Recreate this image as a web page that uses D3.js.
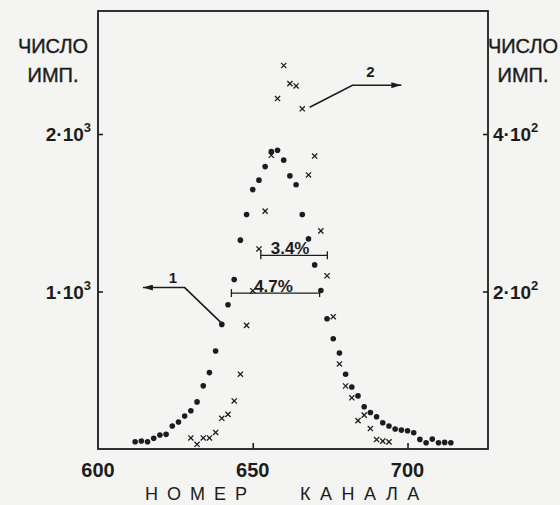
<!DOCTYPE html>
<html>
<head>
<meta charset="utf-8">
<script src="https://cdn.jsdelivr.net/npm/d3@7"></script>
<style>
  body { margin: 0; background: #f4f4f2; }
  svg { display: block; font-family: "Liberation Sans", Arial, sans-serif; }
  .axis path, .axis line { stroke: #1c1c1c; stroke-width: 1.6; }
</style>
</head>
<body>
<svg id="chart" width="560" height="505"></svg>
<script>
// series 1 (dots, left axis)
var channels1 = [612, 614, 616, 618, 620, 622, 624, 626, 628, 630, 632, 634, 636, 638, 640, 642,
  644, 646, 648, 650, 652, 654, 656, 658, 660, 662, 664, 666, 668, 670, 672, 674, 676, 678,
  680, 682, 684, 686, 688, 690, 692, 694, 696, 698, 700, 702, 704, 706, 708, 710, 712, 714];
var counts1 = [46, 51, 46, 68, 89, 93, 146, 171, 209, 243, 299, 401, 485, 622, 791, 916,
  1076, 1326, 1489, 1647, 1707, 1793, 1888, 1897, 1834, 1734, 1678, 1489, 1334, 1169, 1006, 827, 700, 609,
  475, 394, 337, 268, 232, 205, 167, 146, 127, 120, 116, 103, 61, 40, 63, 40, 42, 40];

// series 2 (crosses, right axis)
var channels2 = [630, 632, 634, 636, 638, 640, 642, 644, 646, 648, 650, 652, 654, 656, 658, 660,
  662, 664, 666, 668, 670, 672, 674, 676, 678, 680, 682, 684, 686, 688, 690, 692, 694];
var counts2 = [14, 6, 14, 14, 21, 39, 44, 61, 95, 157, 201, 254, 302, 373, 445, 487,
  464, 461, 432, 348, 372, 277, 220, 168, 108, 80, 65, 36, 43, 26, 12, 10, 9];

var xTicks = [600, 650, 700],
  leftTicks = [1000, 2000], leftTickText = ["1", "2"], leftExp = "3",
  rightTicks = [200, 400], rightTickText = ["2", "4"], rightExp = "2";

// resolution bars: [from channel, to channel, level, label]
var fwhm1 = [643.1, 671.6, 990, "4.7%"],
  fwhm2 = [652.6, 674.1, 246, "3.4%"];

var svg = d3.select("#chart"),
  box = {l: 98, r: 488, t: 11, b: 449},
  ink = "#1c1c1c";

var x = d3.scaleLinear().domain([600, 726]).range([box.l, box.r]);
var yL = d3.scaleLinear().domain([0, 2000]).range([box.b, 134]);
var yR = d3.scaleLinear().domain([0, 400]).range([box.b, 134]);

// frame
svg.append("rect")
  .attr("x", box.l).attr("y", box.t)
  .attr("width", box.r - box.l).attr("height", box.b - box.t)
  .attr("fill", "none").attr("stroke", ink).attr("stroke-width", 1.8);

// ticks (all pointing into the plot)
svg.append("g").attr("class", "axis")
  .attr("transform", "translate(" + box.l + ",0)")
  .call(d3.axisRight(yL).tickValues(leftTicks).tickSize(5).tickSizeOuter(0).tickFormat(""));
svg.append("g").attr("class", "axis")
  .attr("transform", "translate(" + box.r + ",0)")
  .call(d3.axisLeft(yR).tickValues(rightTicks).tickSize(5).tickSizeOuter(0).tickFormat(""));
svg.append("g").attr("class", "axis")
  .attr("transform", "translate(0," + box.b + ")")
  .call(d3.axisTop(x).tickValues(xTicks.slice(1)).tickSize(6).tickSizeOuter(0).tickFormat(""));
svg.selectAll(".axis .domain").remove();

// tick labels
svg.selectAll(".xlab").data(xTicks).enter().append("text")
  .attr("x", d => x(d)).attr("y", 477)
  .attr("text-anchor", "middle")
  .attr("font-size", 20).attr("font-weight", "bold").attr("fill", ink)
  .text(d => d);

function expLabels(ticks, texts, exp, scale, xpos, anchor) {
  var t = svg.selectAll(null).data(ticks).enter().append("text")
    .attr("x", xpos).attr("y", d => scale(d) + 7)
    .attr("text-anchor", anchor)
    .attr("font-size", 19).attr("font-weight", "bold").attr("fill", ink);
  t.append("tspan").text((d, i) => texts[i] + "\u00b710");
  t.append("tspan").attr("dy", -9).attr("font-size", 13).text(exp);
}
expLabels(leftTicks, leftTickText, leftExp, yL, 91, "end");
expLabels(rightTicks, rightTickText, rightExp, yR, 493, "start");

// axis titles
[53, 523].forEach(cx => {
  svg.append("text").attr("x", cx).attr("y", 53).attr("text-anchor", "middle")
    .attr("font-size", 20).attr("fill", ink).attr("stroke", ink).attr("stroke-width", 0.4)
    .text("ЧИСЛО");
  svg.append("text").attr("x", cx).attr("y", 82).attr("text-anchor", "middle")
    .attr("font-size", 20).attr("fill", ink).attr("stroke", ink).attr("stroke-width", 0.4)
    .text("ИМП.");
});
svg.append("text").attr("x", 145).attr("y", 500)
  .attr("font-size", 18).attr("letter-spacing", 9).attr("fill", ink).text("НОМЕР");
svg.append("text").attr("x", 300).attr("y", 500)
  .attr("font-size", 18).attr("letter-spacing", 9.5).attr("fill", ink).text("КАНАЛА");

// resolution bars
function bar(b, scale, shift) {
  var g = svg.append("g").attr("stroke", ink).attr("stroke-width", 1.3);
  var yy = scale(b[2]);
  g.append("line").attr("x1", x(b[0])).attr("x2", x(b[1])).attr("y1", yy).attr("y2", yy);
  [b[0], b[1]].forEach(c => {
    g.append("line").attr("x1", x(c)).attr("x2", x(c)).attr("y1", yy - 4).attr("y2", yy + 4);
  });
  svg.append("text").attr("x", (x(b[0]) + x(b[1])) / 2 + shift).attr("y", yy - 1)
    .attr("text-anchor", "middle").attr("font-size", 17).attr("font-weight", "bold")
    .attr("fill", ink).text(b[3]);
}
bar(fwhm1, yL, -2);
bar(fwhm2, yR, -4);

// series 1: dots
svg.append("g").selectAll("circle")
  .data(channels1.map((c, i) => [c, counts1[i]]))
  .enter().append("circle")
  .attr("cx", d => x(d[0])).attr("cy", d => yL(d[1]))
  .attr("r", 2.8).attr("fill", ink);

// series 2: crosses
var cs = 2.6;
svg.append("g").selectAll("path")
  .data(channels2.map((c, i) => [c, counts2[i]]))
  .enter().append("path")
  .attr("d", d => {
    var px = x(d[0]), py = yR(d[1]);
    return "M" + (px - cs) + "," + (py - cs) + "L" + (px + cs) + "," + (py + cs) +
      "M" + (px - cs) + "," + (py + cs) + "L" + (px + cs) + "," + (py - cs);
  })
  .attr("stroke", ink).attr("stroke-width", 1.3).attr("fill", "none");

// leader arrows
svg.append("defs").append("marker")
  .attr("id", "head").attr("viewBox", "0 0 10 6")
  .attr("refX", 10).attr("refY", 3)
  .attr("markerWidth", 10).attr("markerHeight", 6)
  .attr("markerUnits", "userSpaceOnUse").attr("orient", "auto")
  .append("path").attr("d", "M0,0L10,3L0,6Z").attr("fill", ink);

var lead = d3.line();
svg.append("path")
  .attr("d", lead([[x(640), yL(791) - 1], [x(628), yL(1025)], [x(614.5), yL(1025)]]))
  .attr("fill", "none").attr("stroke", ink).attr("stroke-width", 1.6)
  .attr("marker-end", "url(#head)");
svg.append("text").attr("x", 173).attr("y", 283).attr("text-anchor", "middle")
  .attr("font-size", 15).attr("font-weight", "bold").attr("fill", ink).text("1");

svg.append("path")
  .attr("d", lead([[x(668.4), yR(434)], [x(682.2), yR(462)], [x(698), yR(462)]]))
  .attr("fill", "none").attr("stroke", ink).attr("stroke-width", 1.6)
  .attr("marker-end", "url(#head)");
svg.append("text").attr("x", 370.5).attr("y", 77).attr("text-anchor", "middle")
  .attr("font-size", 15).attr("font-weight", "bold").attr("fill", ink).text("2");
</script>
</body>
</html>
